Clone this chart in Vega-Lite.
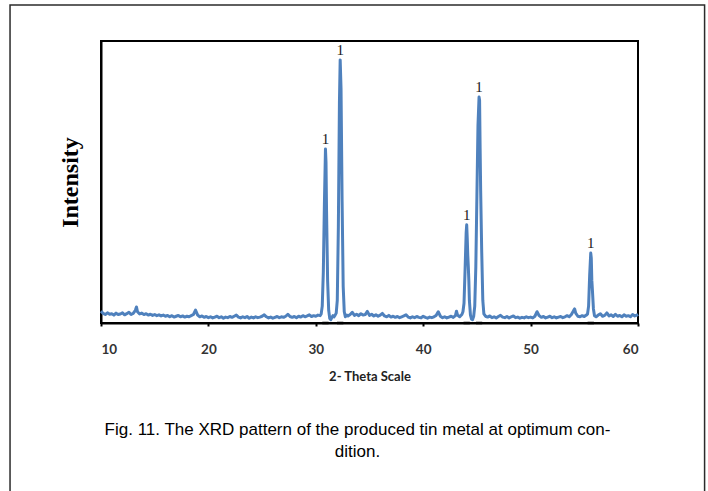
{
"$schema": "https://vega.github.io/schema/vega-lite/v6.json",
"autosize": {"type": "none"},
"width": 537,
"height": 282,
"padding": {"left": 101, "top": 41, "right": 70, "bottom": 168},
"background": "white",
"title": {"text": ["Fig. 11. The XRD pattern of the produced tin metal at optimum con-", "dition."], "orient": "bottom", "anchor": "middle", "font": "Liberation Sans", "fontSize": 17, "fontWeight": "normal", "lineHeight": 22, "offset": -85, "dx": -12, "color": "#000"},
"config": {"view": {"stroke": "#000", "strokeWidth": 2}},
"datasets": {
"frame": [{"name": "figure"}],
"xrd": [
{"t":10.0,"i":42},{"t":10.2,"i":34},{"t":10.4,"i":30},{"t":10.6,"i":36},{"t":10.8,"i":31},{"t":11.0,"i":33},{"t":11.2,"i":28},{"t":11.4,"i":35},{"t":11.6,"i":30},{"t":11.8,"i":32},{"t":12.0,"i":36},{"t":12.2,"i":29},{"t":12.4,"i":33},{"t":12.6,"i":38},{"t":12.8,"i":30},{"t":13.0,"i":34},{"t":13.2,"i":45},{"t":13.3,"i":57},{"t":13.4,"i":40},{"t":13.6,"i":32},{"t":13.8,"i":35},{"t":14.0,"i":30},{"t":14.2,"i":33},{"t":14.4,"i":28},{"t":14.6,"i":31},{"t":14.8,"i":27},{"t":15.0,"i":30},{"t":15.2,"i":26},{"t":15.4,"i":29},{"t":15.6,"i":25},{"t":15.8,"i":28},{"t":16.0,"i":24},{"t":16.2,"i":27},{"t":16.4,"i":22},{"t":16.6,"i":26},{"t":16.8,"i":21},{"t":17.0,"i":24},{"t":17.2,"i":27},{"t":17.4,"i":22},{"t":17.6,"i":25},{"t":17.8,"i":21},{"t":18.0,"i":24},{"t":18.2,"i":22},{"t":18.4,"i":26},{"t":18.6,"i":30},{"t":18.8,"i":46},{"t":19.0,"i":28},{"t":19.2,"i":22},{"t":19.4,"i":25},{"t":19.6,"i":20},{"t":19.8,"i":23},{"t":20.0,"i":19},{"t":20.2,"i":22},{"t":20.4,"i":18},{"t":20.6,"i":21},{"t":20.8,"i":24},{"t":21.0,"i":19},{"t":21.2,"i":22},{"t":21.4,"i":17},{"t":21.6,"i":21},{"t":21.8,"i":19},{"t":22.0,"i":23},{"t":22.2,"i":20},{"t":22.4,"i":24},{"t":22.6,"i":28},{"t":22.8,"i":21},{"t":23.0,"i":18},{"t":23.2,"i":22},{"t":23.4,"i":19},{"t":23.6,"i":23},{"t":23.8,"i":17},{"t":24.0,"i":21},{"t":24.2,"i":18},{"t":24.4,"i":22},{"t":24.6,"i":19},{"t":24.8,"i":21},{"t":25.0,"i":24},{"t":25.2,"i":29},{"t":25.4,"i":22},{"t":25.6,"i":18},{"t":25.8,"i":21},{"t":26.0,"i":17},{"t":26.2,"i":20},{"t":26.4,"i":23},{"t":26.6,"i":19},{"t":26.8,"i":22},{"t":27.0,"i":20},{"t":27.2,"i":24},{"t":27.4,"i":31},{"t":27.6,"i":23},{"t":27.8,"i":20},{"t":28.0,"i":23},{"t":28.2,"i":19},{"t":28.4,"i":24},{"t":28.6,"i":21},{"t":28.8,"i":26},{"t":29.0,"i":22},{"t":29.2,"i":25},{"t":29.4,"i":29},{"t":29.6,"i":23},{"t":29.8,"i":26},{"t":30.0,"i":24},{"t":30.2,"i":28},{"t":30.4,"i":26},{"t":30.5,"i":32},{"t":30.6,"i":60},{"t":30.7,"i":180},{"t":30.8,"i":420},{"t":30.9,"i":617},{"t":30.95,"i":570},{"t":31.0,"i":400},{"t":31.1,"i":150},{"t":31.2,"i":45},{"t":31.3,"i":16},{"t":31.4,"i":12},{"t":31.5,"i":20},{"t":31.6,"i":26},{"t":31.7,"i":22},{"t":31.8,"i":28},{"t":31.9,"i":35},{"t":32.0,"i":80},{"t":32.1,"i":340},{"t":32.2,"i":780},{"t":32.27,"i":933},{"t":32.35,"i":830},{"t":32.45,"i":430},{"t":32.55,"i":130},{"t":32.65,"i":40},{"t":32.75,"i":22},{"t":32.9,"i":28},{"t":33.0,"i":25},{"t":33.2,"i":30},{"t":33.4,"i":38},{"t":33.6,"i":27},{"t":33.8,"i":31},{"t":34.0,"i":26},{"t":34.2,"i":33},{"t":34.4,"i":28},{"t":34.6,"i":30},{"t":34.8,"i":41},{"t":35.0,"i":27},{"t":35.2,"i":31},{"t":35.4,"i":25},{"t":35.6,"i":29},{"t":35.8,"i":24},{"t":36.0,"i":28},{"t":36.2,"i":34},{"t":36.4,"i":25},{"t":36.6,"i":22},{"t":36.8,"i":27},{"t":37.0,"i":21},{"t":37.2,"i":24},{"t":37.4,"i":20},{"t":37.6,"i":23},{"t":37.8,"i":19},{"t":38.0,"i":22},{"t":38.2,"i":25},{"t":38.4,"i":29},{"t":38.6,"i":21},{"t":38.8,"i":18},{"t":39.0,"i":22},{"t":39.2,"i":19},{"t":39.4,"i":23},{"t":39.6,"i":20},{"t":39.8,"i":18},{"t":40.0,"i":24},{"t":40.2,"i":20},{"t":40.4,"i":17},{"t":40.6,"i":21},{"t":40.8,"i":19},{"t":41.0,"i":22},{"t":41.2,"i":27},{"t":41.4,"i":40},{"t":41.6,"i":24},{"t":41.8,"i":19},{"t":42.0,"i":22},{"t":42.2,"i":18},{"t":42.4,"i":21},{"t":42.6,"i":24},{"t":42.8,"i":20},{"t":43.0,"i":26},{"t":43.1,"i":42},{"t":43.2,"i":28},{"t":43.4,"i":22},{"t":43.6,"i":30},{"t":43.7,"i":40},{"t":43.8,"i":70},{"t":43.9,"i":190},{"t":44.0,"i":320},{"t":44.05,"i":348},{"t":44.1,"i":300},{"t":44.15,"i":240},{"t":44.2,"i":200},{"t":44.25,"i":150},{"t":44.3,"i":80},{"t":44.4,"i":28},{"t":44.5,"i":14},{"t":44.6,"i":12},{"t":44.7,"i":24},{"t":44.8,"i":60},{"t":44.9,"i":200},{"t":45.0,"i":450},{"t":45.1,"i":700},{"t":45.2,"i":801},{"t":45.25,"i":790},{"t":45.3,"i":620},{"t":45.35,"i":470},{"t":45.45,"i":250},{"t":45.55,"i":80},{"t":45.65,"i":32},{"t":45.8,"i":24},{"t":46.0,"i":21},{"t":46.2,"i":25},{"t":46.4,"i":19},{"t":46.6,"i":22},{"t":46.8,"i":18},{"t":47.0,"i":23},{"t":47.2,"i":27},{"t":47.4,"i":21},{"t":47.6,"i":19},{"t":47.8,"i":23},{"t":48.0,"i":18},{"t":48.2,"i":22},{"t":48.4,"i":25},{"t":48.6,"i":19},{"t":48.8,"i":21},{"t":49.0,"i":17},{"t":49.2,"i":20},{"t":49.4,"i":18},{"t":49.6,"i":22},{"t":49.8,"i":19},{"t":50.0,"i":21},{"t":50.2,"i":18},{"t":50.4,"i":24},{"t":50.6,"i":40},{"t":50.8,"i":26},{"t":51.0,"i":20},{"t":51.2,"i":23},{"t":51.4,"i":18},{"t":51.6,"i":21},{"t":51.8,"i":24},{"t":52.0,"i":19},{"t":52.2,"i":22},{"t":52.4,"i":18},{"t":52.6,"i":21},{"t":52.8,"i":23},{"t":53.0,"i":19},{"t":53.2,"i":22},{"t":53.4,"i":26},{"t":53.6,"i":22},{"t":53.8,"i":30},{"t":54.0,"i":44},{"t":54.1,"i":50},{"t":54.2,"i":35},{"t":54.4,"i":24},{"t":54.6,"i":22},{"t":54.8,"i":26},{"t":55.0,"i":23},{"t":55.2,"i":28},{"t":55.3,"i":32},{"t":55.4,"i":60},{"t":55.5,"i":170},{"t":55.6,"i":248},{"t":55.65,"i":230},{"t":55.7,"i":152},{"t":55.75,"i":120},{"t":55.85,"i":50},{"t":55.95,"i":26},{"t":56.1,"i":22},{"t":56.3,"i":28},{"t":56.5,"i":33},{"t":56.7,"i":24},{"t":56.9,"i":27},{"t":57.1,"i":36},{"t":57.3,"i":25},{"t":57.5,"i":29},{"t":57.7,"i":23},{"t":57.9,"i":31},{"t":58.1,"i":24},{"t":58.3,"i":27},{"t":58.5,"i":22},{"t":58.7,"i":29},{"t":58.9,"i":24},{"t":59.1,"i":26},{"t":59.3,"i":22},{"t":59.5,"i":30},{"t":59.7,"i":25},{"t":59.9,"i":28},{"t":60.0,"i":31}
],
"peaks": [
{"t":30.9,"i":617,"label":"1"},{"t":32.27,"i":933,"label":"1"},{"t":44.05,"i":348,"label":"1"},{"t":45.2,"i":801,"label":"1"},{"t":55.6,"i":248,"label":"1"}
]
},
"layer": [
{
"data": {"name": "frame"},
"mark": {"type": "rect", "filled": false, "stroke": "#2b2b2b", "strokeWidth": 1.5, "clip": false},
"encoding": {
"x": {"datum": 1.53, "type": "quantitative", "scale": {"domain": [10, 60], "nice": false, "zero": false}},
"x2": {"datum": 66.2},
"y": {"datum": 1128, "type": "quantitative", "scale": {"domain": [0, 1000], "nice": false}},
"y2": {"datum": -650}
}
},
{
"data": {"name": "xrd"},
"mark": {"type": "line", "color": "#4F81BD", "strokeWidth": 3, "strokeJoin": "round"},
"encoding": {
"x": {"field": "t", "type": "quantitative", "scale": {"domain": [10, 60], "nice": false, "zero": false},
"axis": {"values": [10, 20, 30, 40, 50, 60], "title": "2- Theta Scale", "grid": false, "domainColor": "#000", "domainWidth": 2, "tickColor": "#000", "tickSize": 3, "tickWidth": 2, "labelFont": "Lato", "labelFontWeight": "bold", "labelFontSize": 13.5, "labelColor": "#333", "labelPadding": 16, "titleFont": "Lato", "titleFontSize": 13, "titleFontWeight": "bold", "titleColor": "#222", "titlePadding": 15}},
"y": {"field": "i", "type": "quantitative", "scale": {"domain": [0, 1000], "nice": false},
"axis": {"title": "Intensity", "labels": false, "ticks": false, "grid": false, "domainColor": "#000", "domainWidth": 2, "titleFont": "Liberation Serif", "titleFontSize": 24, "titleFontWeight": "bold", "titleColor": "#000", "titlePadding": 19}}
}
},
{
"data": {"name": "peaks"},
"mark": {"type": "point", "shape": "M-1,-0.4L1,-0.4L1,0.4L-1,0.4Z", "filled": true, "color": "#000", "size": 40, "opacity": 1},
"encoding": {
"x": {"field": "t", "type": "quantitative"},
"y": {"datum": 0, "type": "quantitative"}
}
},
{
"data": {"name": "peaks"},
"mark": {"type": "text", "baseline": "bottom", "dy": -2, "font": "Liberation Serif", "fontSize": 15, "color": "#1a1a1a"},
"encoding": {
"x": {"field": "t", "type": "quantitative"},
"y": {"field": "i", "type": "quantitative"},
"text": {"field": "label"}
}
}
]
}
